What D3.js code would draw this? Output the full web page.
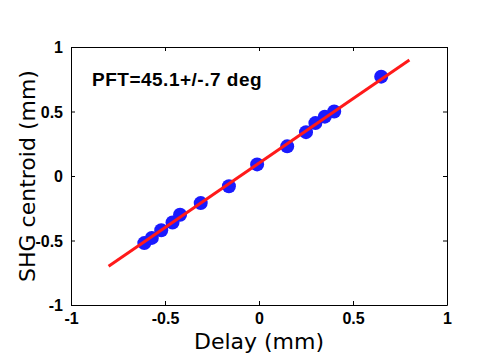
<!DOCTYPE html>
<html><head><meta charset="utf-8">
<script src="https://cdn.jsdelivr.net/npm/d3@7"></script>
<style>body{margin:0;background:#fff}svg{display:block}</style>
</head><body>
<script>
const delay = [-0.61,-0.57,-0.52,-0.46,-0.42,-0.31,-0.16,-0.01,0.15,0.25,0.30,0.35,0.40,0.65];
const centroid = [-0.52,-0.48,-0.42,-0.36,-0.30,-0.21,-0.08,0.09,0.23,0.34,0.41,0.46,0.50,0.77];
const fitX = [-0.8, 0.8];
const fitY = [-0.7, 0.9];
const xTicks = [-1,-0.5,0,0.5,1];
const yTicks = [-1,-0.5,0,0.5,1];
const xTickLabels = ["-1","-0.5","0","0.5","1"];
const yTickLabels = ["-1","-0.5","0","0.5","1"];
const annotation = "PFT=45.1+/-.7 deg";
const xTitle = "Delay (mm)";
const yTitle = "SHG centroid (mm)";

const W=493,H=355;
const L=71,R=447,T=47,B=305;
const svg=d3.select("body").append("svg").attr("width",W).attr("height",H);
const x=d3.scaleLinear().domain([-1,1]).range([L,R]);
const y=d3.scaleLinear().domain([-1,1]).range([B,T]);

const tickFont="'Liberation Sans', Arial, sans-serif";
const gB=svg.append("g").attr("transform",`translate(0,${B})`)
  .call(d3.axisBottom(x).tickValues(xTicks).tickFormat((d,i)=>xTickLabels[i]).tickSizeInner(-4).tickSizeOuter(0).tickPadding(8));
const gL=svg.append("g").attr("transform",`translate(${L},0)`)
  .call(d3.axisLeft(y).tickValues(yTicks).tickFormat((d,i)=>yTickLabels[i]).tickSizeInner(-4).tickSizeOuter(0).tickPadding(8));
const gT=svg.append("g").attr("transform",`translate(0,${T})`)
  .call(d3.axisTop(x).tickValues(xTicks).tickFormat("").tickSizeInner(-4).tickSizeOuter(0));
const gR=svg.append("g").attr("transform",`translate(${R},0)`)
  .call(d3.axisRight(y).tickValues(yTicks).tickFormat("").tickSizeInner(-4).tickSizeOuter(0));
[gB,gL,gT,gR].forEach(g=>{
  g.selectAll("path.domain").attr("stroke","#000").attr("stroke-width",1);
  g.selectAll(".tick line").attr("stroke","#000");
  g.selectAll("text").attr("font-family",tickFont).attr("font-weight","bold").attr("font-size",16).attr("fill","#000");
});
gL.selectAll(".tick text").attr("dy","0.36em");

svg.append("g").selectAll("circle").data(delay).join("circle")
  .attr("cx",d=>x(d)).attr("cy",(d,i)=>y(centroid[i])).attr("r",7).attr("fill","#1a1aff");

svg.append("path").datum(fitX.map((d,i)=>[d,fitY[i]]))
  .attr("d",d3.line().x(d=>x(d[0])).y(d=>y(d[1])))
  .attr("stroke","#ff1a1a").attr("stroke-width",3).attr("fill","none");

svg.append("text").attr("x",92).attr("y",86).text(annotation)
  .attr("font-family",tickFont).attr("font-weight","bold").attr("font-size",19)
  .attr("letter-spacing",0.5).attr("fill","#000");

svg.append("text").attr("x",(L+R)/2).attr("y",349).attr("text-anchor","middle").text(xTitle)
  .attr("font-family","'DejaVu Sans', sans-serif").attr("font-size",22).attr("fill","#000");
svg.append("text").attr("transform",`translate(35,${(T+B)/2}) rotate(-90)`).attr("text-anchor","middle").text(yTitle)
  .attr("font-family","'DejaVu Sans', sans-serif").attr("font-size",22).attr("fill","#000");
</script>
</body></html>
